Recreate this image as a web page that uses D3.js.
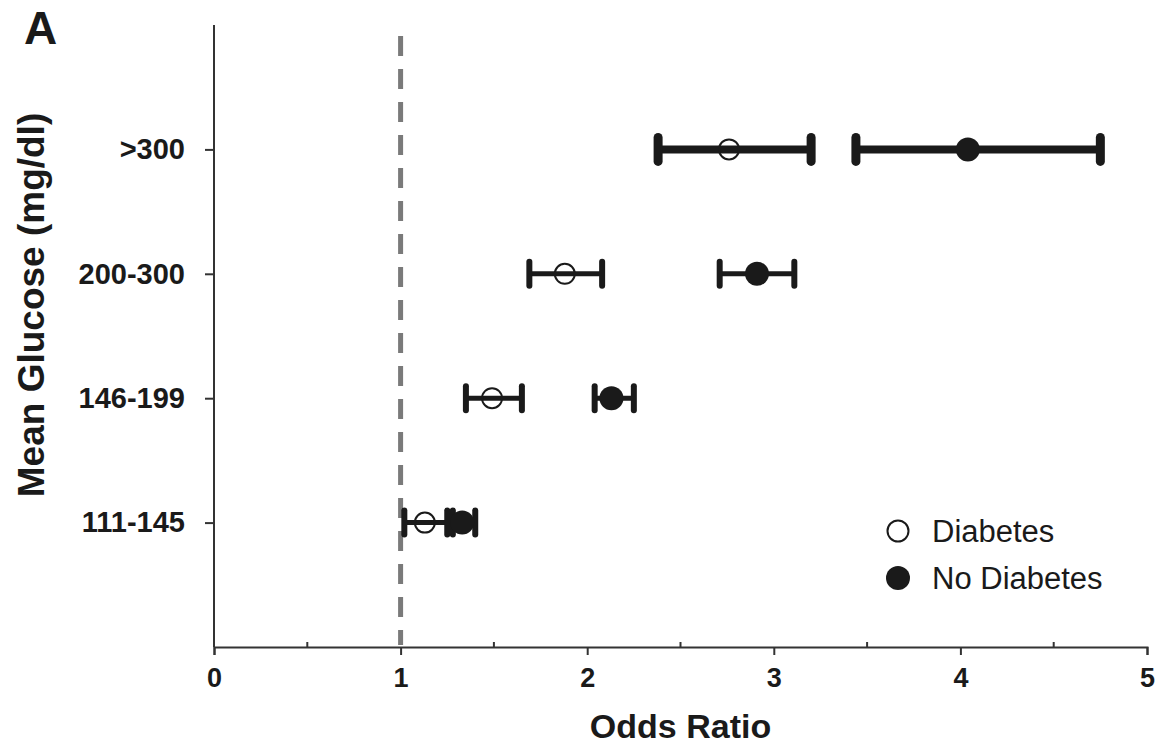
<!DOCTYPE html>
<html>
<head>
<meta charset="utf-8">
<title>Odds Ratio by Mean Glucose</title>
<script src="https://cdn.jsdelivr.net/npm/d3@7"></script>
<style>
  body { margin: 0; background: #fff; }
  text { font-family: Arial, "Liberation Sans", Helvetica, sans-serif; fill: #1a1a1a; }
</style>
</head>
<body>
<div id="chart"></div>
<script>
// categories from bottom to top
var categories = ["111-145", "146-199", "200-300", ">300"];

// Diabetes: odds ratio and 95% CI
var diabOR   = [1.13, 1.49, 1.88, 2.76];
var diabLow  = [1.02, 1.35, 1.69, 2.38];
var diabHigh = [1.25, 1.65, 2.08, 3.20];

// No diabetes
var noDiabOR   = [1.33, 2.13, 2.91, 4.04];
var noDiabLow  = [1.28, 2.04, 2.71, 3.44];
var noDiabHigh = [1.40, 2.25, 3.11, 4.75];

var xTicks = [0, 1, 2, 3, 4, 5];
var xMinorTicks = [0.5, 1.5, 2.5, 3.5, 4.5];
var refValue = 1;

var W = 1159, H = 746;
var ink = "#1a1a1a";

var svg = d3.select("#chart").append("svg")
    .attr("width", W).attr("height", H);

var x = d3.scaleLinear().domain([0, 5]).range([214, 1147]);
var y = d3.scaleLinear().domain([0, 5]).range([647, 25]);

// panel letter
svg.append("text").attr("x", 24).attr("y", 44)
    .style("font-size", "46px").style("font-weight", "bold").text("A");

// x axis: major ticks down, minor ticks up
var xAxis = svg.append("g").attr("transform", "translate(0," + y(0) + ")")
    .call(d3.axisBottom(x).tickValues(xTicks).tickSize(8).tickPadding(13).tickFormat(d3.format("d")));
xAxis.select(".domain").attr("stroke", "#333").attr("stroke-width", 2);
xAxis.selectAll(".tick line").attr("stroke", "#333").attr("stroke-width", 2);
xAxis.selectAll(".tick text").style("font-size", "27px").style("font-weight", "bold")
    .attr("fill", ink).attr("font-family", null);

svg.append("g").selectAll("line").data(xMinorTicks).join("line")
    .attr("x1", d => x(d)).attr("x2", d => x(d))
    .attr("y1", y(0)).attr("y2", y(0) - 5)
    .attr("stroke", "#333").attr("stroke-width", 2);

// y axis
var yAxis = svg.append("g").attr("transform", "translate(" + x(0) + ",0)")
    .call(d3.axisLeft(y).tickValues([1, 2, 3, 4]).tickSize(9).tickPadding(20)
        .tickFormat(d => categories[d - 1]));
yAxis.select(".domain").attr("stroke", "#333").attr("stroke-width", 2)
    .attr("d", "M0," + y(5) + "V" + y(0));
yAxis.selectAll(".tick line").attr("stroke", "#333").attr("stroke-width", 2);
yAxis.selectAll(".tick text").style("font-size", "29px").style("font-weight", "bold")
    .attr("fill", ink).attr("font-family", null);

// axis titles
svg.append("text").attr("x", x(2.5)).attr("y", 738).attr("text-anchor", "middle")
    .style("font-size", "34px").style("font-weight", "bold").text("Odds Ratio");
svg.append("text").attr("transform", "translate(44,305) rotate(-90)")
    .attr("text-anchor", "middle")
    .style("font-size", "37px").style("font-weight", "bold").text("Mean Glucose (mg/dl)");

// reference line at OR = 1
svg.append("line")
    .attr("x1", x(refValue)).attr("x2", x(refValue))
    .attr("y1", 36).attr("y2", y(0) - 2)
    .attr("stroke", "#7a7a7a").attr("stroke-width", 5)
    .attr("stroke-dasharray", "20,13");

// build rows
function rows(or, lo, hi, group) {
    return categories.map((c, i) => ({ cat: c, pos: i + 1, or: or[i], lo: lo[i], hi: hi[i], group: group }));
}
var data = rows(diabOR, diabLow, diabHigh, "Diabetes")
    .concat(rows(noDiabOR, noDiabLow, noDiabHigh, "No Diabetes"));

function barW(d) { return d.cat === ">300" ? 8 : 5; }

var g = svg.append("g");
g.selectAll("line.ci").data(data).join("line").attr("class", "ci")
    .attr("x1", d => x(d.lo)).attr("x2", d => x(d.hi))
    .attr("y1", d => y(d.pos)).attr("y2", d => y(d.pos))
    .attr("stroke", ink).attr("stroke-width", barW);

// caps
var caps = [];
data.forEach(d => { caps.push({ v: d.lo, d: d }); caps.push({ v: d.hi, d: d }); });
g.selectAll("line.cap").data(caps).join("line").attr("class", "cap")
    .attr("x1", c => x(c.v)).attr("x2", c => x(c.v))
    .attr("y1", c => y(c.d.pos) - 12).attr("y2", c => y(c.d.pos) + 12)
    .attr("stroke", ink).attr("stroke-linecap", "round")
    .attr("stroke-width", c => barW(c.d) + 1);

// points
g.selectAll("circle.pt").data(data).join("circle").attr("class", "pt")
    .attr("cx", d => x(d.or)).attr("cy", d => y(d.pos))
    .attr("r", d => d.group === "Diabetes" ? 10 : 12)
    .attr("fill", d => d.group === "Diabetes" ? "none" : ink)
    .attr("stroke", ink)
    .attr("stroke-width", d => d.group === "Diabetes" ? 2 : 0);

// legend
var legend = svg.append("g").attr("transform", "translate(898,531)");
var groups = ["Diabetes", "No Diabetes"];
groups.forEach((name, i) => {
    var row = legend.append("g").attr("transform", "translate(0," + i * 47 + ")");
    row.append("circle").attr("r", name === "Diabetes" ? 10.5 : 12)
        .attr("fill", name === "Diabetes" ? "#fff" : ink)
        .attr("stroke", ink).attr("stroke-width", name === "Diabetes" ? 2 : 0);
    row.append("text").attr("x", 34).attr("y", 11)
        .style("font-size", "31px").text(name);
});
</script>
</body>
</html>
